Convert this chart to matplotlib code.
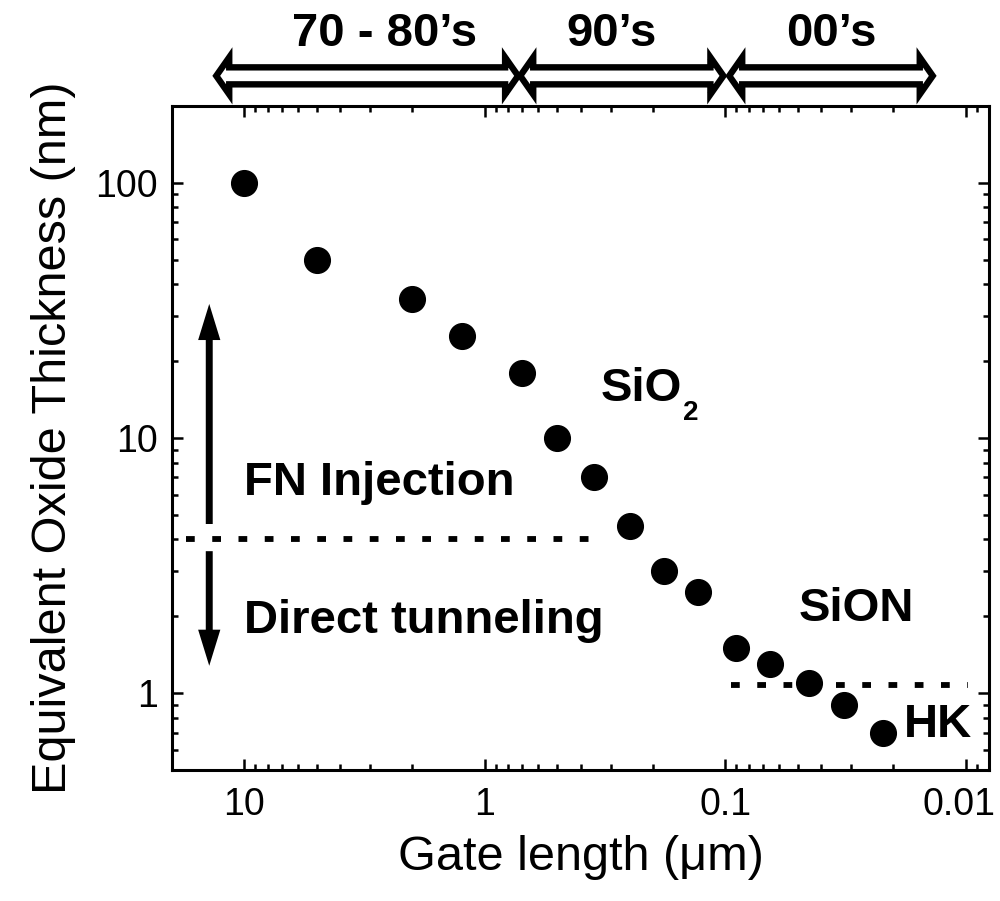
import numpy as np
import matplotlib
matplotlib.use('Agg')
import matplotlib.pyplot as plt
from matplotlib.patches import Polygon, FancyArrowPatch
from matplotlib.ticker import FuncFormatter, NullFormatter, LogLocator
from matplotlib.transforms import blended_transform_factory, ScaledTranslation

plt.rcParams['font.family'] = ['Liberation Sans', 'DejaVu Sans']

# gate length (um) vs equivalent oxide thickness (nm)
gate_length = [10, 5, 2, 1.25, 0.7, 0.5, 0.35, 0.25, 0.18, 0.13,
               0.09, 0.065, 0.045, 0.032, 0.022]
eot = [100, 50, 35, 25, 18, 10, 7, 4.5, 3, 2.5,
       1.5, 1.3, 1.1, 0.9, 0.7]

# eras shown above the plot (gate length range of each)
era_labels = ['70 - 80\u2019s', '90\u2019s', '00\u2019s']
era_start = [13.6, 0.74, 0.1]
era_end = [0.70, 0.098, 0.0132]
era_text_x = [2.6, 0.297, 0.0363]

# limit lines
fn_limit = 4.0
fn_limit_x = [17.5, 0.33]
hk_limit = 1.08
hk_limit_x = [0.0945, 0.0098]

fig = plt.figure(figsize=(10, 9.01), dpi=100)
ax = fig.add_axes([0.172, 0.1454, 0.817, 0.7371])

ax.plot(gate_length, eot, 'o', color='k', ms=18.5, zorder=3)

ax.set_xscale('log')
ax.set_yscale('log')
ax.set_xlim(20, 0.008)
ax.set_ylim(0.5, 200)

dots = (0, (1.5, 3.0))
ax.plot(fn_limit_x, [fn_limit, fn_limit], color='k', lw=4.2, ls=dots,
        dash_capstyle='butt')
ax.plot(hk_limit_x, [hk_limit, hk_limit], color='k', lw=4.2, ls=dots,
        dash_capstyle='butt')

# FN / direct tunneling arrows
arr_style = 'simple,head_length=26,head_width=16,tail_width=5'
ax.add_patch(FancyArrowPatch((14, 4.6), (14, 33.5), arrowstyle=arr_style,
                             mutation_scale=1, color='k', lw=0,
                             shrinkA=0, shrinkB=0))
ax.add_patch(FancyArrowPatch((14, 3.6), (14, 1.28), arrowstyle=arr_style,
                             mutation_scale=1, color='k', lw=0,
                             shrinkA=0, shrinkB=0))

bold = dict(fontsize=34, fontweight='bold')
ax.text(10, 6.0, 'FN Injection', ha='left', va='baseline', **bold)
ax.text(10, 1.72, 'Direct tunneling', ha='left', va='baseline', **bold)
ax.text(0.33, 14, 'SiO', ha='left', va='baseline', **bold)
ax.annotate('2', xy=(0.33, 14), xytext=(82, -19), textcoords='offset pixels',
            ha='left', va='baseline', fontsize=20, fontweight='bold')
ax.text(0.0493, 1.92, 'SiON', ha='left', va='baseline', **bold)
ax.text(0.0181, 0.672, 'HK', ha='left', va='baseline', **bold)

# hollow double arrows for the eras
trans = blended_transform_factory(ax.transData, ax.transAxes)
yc = 1.0452
hs = 8.5 / 664
hh = 18.5 / 664
inset = 10 ** (4 / 241)
head = 10 ** (13 / 241)
for x0, x1 in zip(era_start, era_end):
    a = x0 / inset
    b = x1 * inset
    a2 = a / head
    b2 = b * head
    verts = [(a, yc), (a2, yc + hh), (a2, yc + hs), (b2, yc + hs),
             (b2, yc + hh), (b, yc), (b2, yc - hh), (b2, yc - hs),
             (a2, yc - hs), (a2, yc - hh)]
    ax.add_patch(Polygon(verts, closed=True, transform=trans, clip_on=False,
                         facecolor='white', edgecolor='k', lw=4.6,
                         joinstyle='miter'))
for lab, xt in zip(era_labels, era_text_x):
    ax.text(xt, 1.09, lab, transform=trans, ha='center', va='baseline',
            **bold)

fmt = FuncFormatter(lambda v, p: f'{v:g}')
ax.xaxis.set_major_formatter(fmt)
ax.yaxis.set_major_formatter(fmt)
ax.xaxis.set_minor_locator(LogLocator(base=10, subs=np.arange(2, 10)))
ax.yaxis.set_minor_locator(LogLocator(base=10, subs=np.arange(2, 10)))
ax.xaxis.set_minor_formatter(NullFormatter())
ax.yaxis.set_minor_formatter(NullFormatter())

ax.tick_params(which='both', direction='in', top=True, right=True,
               width=1.8, labelsize=27)
ax.tick_params(axis='x', which='major', pad=12)
ax.tick_params(axis='y', which='major', pad=10)
ax.tick_params(which='major', length=8)
ax.tick_params(which='minor', length=4)
for s in ax.spines.values():
    s.set_linewidth(2.2)

ax.set_xlabel('Gate length (\u03bcm)', fontsize=35, labelpad=9)
ax.set_ylabel('Equivalent Oxide Thickness (nm)', fontsize=35, labelpad=14)

# nudge the last x tick label so it stays inside the figure
fig.canvas.draw()
for t in ax.xaxis.get_major_ticks():
    if t.label1.get_text() == '0.01':
        t.label1.set_transform(t.label1.get_transform() +
                               ScaledTranslation(-7 / 100, 0, fig.dpi_scale_trans))

fig.savefig('out.png', dpi=100)
